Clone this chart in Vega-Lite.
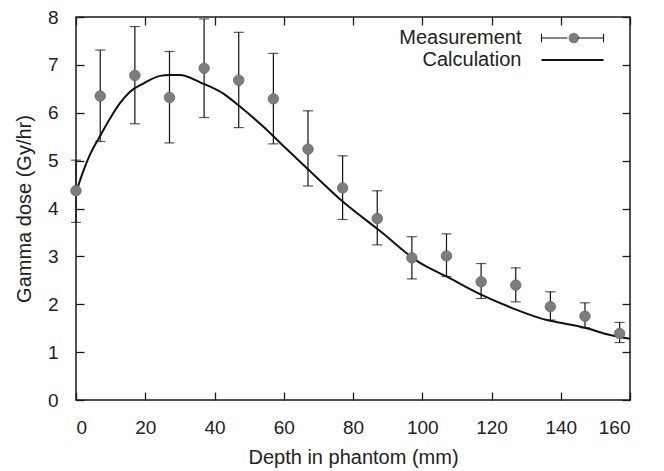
{
  "$schema": "https://vega.github.io/schema/vega-lite/v6.json",
  "width": 554,
  "height": 383,
  "autosize": "none",
  "padding": {"left": 76, "top": 17, "right": 34, "bottom": 71},
  "background": "white",
  "config": {
    "view": {"stroke": "#1a1a1a", "strokeWidth": 1.5},
    "font": "Liberation Sans",
    "axis": {
      "grid": false,
      "domain": false,
      "tickSize": -8,
      "tickColor": "#1a1a1a",
      "tickWidth": 1.3,
      "labelFont": "Liberation Sans",
      "labelFontSize": 19,
      "labelColor": "#222",
      "titleFont": "Liberation Sans",
      "titleFontSize": 20,
      "titleFontWeight": "normal",
      "titleColor": "#222"
    }
  },
  "resolve": {"axis": {"x": "independent", "y": "independent"}},
  "datasets": {
    "meas": [
      {"depth": 0, "dose": 4.37, "lo": 3.71, "hi": 5.01, "series": "Measurement"},
      {"depth": 7, "dose": 6.35, "lo": 5.40, "hi": 7.31, "series": "Measurement"},
      {"depth": 17, "dose": 6.78, "lo": 5.77, "hi": 7.80, "series": "Measurement"},
      {"depth": 27, "dose": 6.32, "lo": 5.37, "hi": 7.28, "series": "Measurement"},
      {"depth": 37, "dose": 6.93, "lo": 5.90, "hi": 7.96, "series": "Measurement"},
      {"depth": 47, "dose": 6.68, "lo": 5.69, "hi": 7.68, "series": "Measurement"},
      {"depth": 57, "dose": 6.29, "lo": 5.35, "hi": 7.24, "series": "Measurement"},
      {"depth": 67, "dose": 5.24, "lo": 4.47, "hi": 6.04, "series": "Measurement"},
      {"depth": 77, "dose": 4.43, "lo": 3.77, "hi": 5.10, "series": "Measurement"},
      {"depth": 87, "dose": 3.79, "lo": 3.24, "hi": 4.37, "series": "Measurement"},
      {"depth": 97, "dose": 2.97, "lo": 2.53, "hi": 3.41, "series": "Measurement"},
      {"depth": 107, "dose": 3.01, "lo": 2.58, "hi": 3.47, "series": "Measurement"},
      {"depth": 117, "dose": 2.47, "lo": 2.12, "hi": 2.85, "series": "Measurement"},
      {"depth": 127, "dose": 2.40, "lo": 2.05, "hi": 2.76, "series": "Measurement"},
      {"depth": 137, "dose": 1.95, "lo": 1.67, "hi": 2.26, "series": "Measurement"},
      {"depth": 147, "dose": 1.75, "lo": 1.51, "hi": 2.03, "series": "Measurement"},
      {"depth": 157, "dose": 1.39, "lo": 1.20, "hi": 1.62, "series": "Measurement"}
    ],
    "calc": [
      {"depth": 0, "dose": 4.33},
      {"depth": 2, "dose": 4.76},
      {"depth": 4, "dose": 5.12},
      {"depth": 7, "dose": 5.52},
      {"depth": 10, "dose": 5.9},
      {"depth": 12.7, "dose": 6.2},
      {"depth": 15.6, "dose": 6.44},
      {"depth": 19.4, "dose": 6.61},
      {"depth": 24.3, "dose": 6.77},
      {"depth": 27, "dose": 6.79},
      {"depth": 30, "dose": 6.79},
      {"depth": 36, "dose": 6.63},
      {"depth": 43, "dose": 6.38},
      {"depth": 47, "dose": 6.15},
      {"depth": 55, "dose": 5.65},
      {"depth": 59, "dose": 5.37},
      {"depth": 67, "dose": 4.82},
      {"depth": 76, "dose": 4.21},
      {"depth": 88, "dose": 3.52},
      {"depth": 99, "dose": 2.88},
      {"depth": 107, "dose": 2.58},
      {"depth": 117, "dose": 2.2},
      {"depth": 126, "dose": 1.92},
      {"depth": 136, "dose": 1.67},
      {"depth": 141, "dose": 1.6},
      {"depth": 147.5, "dose": 1.5},
      {"depth": 153, "dose": 1.38},
      {"depth": 160, "dose": 1.28}
    ]
  },
  "layer": [
    {
      "data": {"name": "calc"},
      "mark": {"type": "line", "color": "#111", "strokeWidth": 2, "interpolate": "monotone"},
      "encoding": {
        "x": {"field": "depth", "type": "quantitative", "scale": {"domain": [0, 160], "nice": false},
              "axis": {"orient": "top", "labels": false, "title": null, "values": [0, 20, 40, 60, 80, 100, 120, 140, 160]}},
        "y": {"field": "dose", "type": "quantitative", "scale": {"domain": [0, 8], "nice": false},
              "axis": {"orient": "right", "labels": false, "title": null, "values": [0, 1, 2, 3, 4, 5, 6, 7, 8]}}
      }
    },
    {
      "data": {"name": "meas"},
      "mark": {"type": "rule", "color": "#111", "strokeWidth": 1.2},
      "encoding": {
        "x": {"field": "depth", "type": "quantitative",
              "axis": {"orient": "bottom", "title": "Depth in phantom (mm)", "values": [0, 20, 40, 60, 80, 100, 120, 140, 160], "labelPadding": 26, "titlePadding": 10}},
        "y": {"field": "lo", "type": "quantitative",
              "axis": {"orient": "left", "title": "Gamma dose (Gy/hr)", "values": [0, 1, 2, 3, 4, 5, 6, 7, 8], "labelPadding": 26, "titlePadding": 13}},
        "y2": {"field": "hi"}
      }
    },
    {
      "data": {"name": "meas"},
      "mark": {"type": "tick", "orient": "horizontal", "color": "#111", "size": 10, "thickness": 1.2},
      "encoding": {
        "x": {"field": "depth", "type": "quantitative", "axis": null},
        "y": {"field": "lo", "type": "quantitative", "axis": null}
      }
    },
    {
      "data": {"name": "meas"},
      "mark": {"type": "tick", "orient": "horizontal", "color": "#111", "size": 10, "thickness": 1.2},
      "encoding": {
        "x": {"field": "depth", "type": "quantitative", "axis": null},
        "y": {"field": "hi", "type": "quantitative", "axis": null}
      }
    },
    {
      "data": {"name": "meas"},
      "mark": {"type": "point", "shape": "circle", "filled": true, "size": 110, "opacity": 1, "stroke": "#666", "strokeWidth": 0.8},
      "encoding": {
        "x": {"field": "depth", "type": "quantitative", "axis": null},
        "y": {"field": "dose", "type": "quantitative", "axis": null},
        "color": {
          "field": "series", "type": "nominal",
          "scale": {"domain": ["Measurement"], "range": ["#7d7d7d"]},
          "legend": {
            "title": null,
            "orient": "none",
            "legendX": 487.8,
            "legendY": 11,
            "clipHeight": 20,
            "symbolType": "circle",
            "symbolSize": 110,
            "symbolStrokeWidth": 0,
            "symbolOpacity": 1,
            "labelExpr": "''",
            "labelFontSize": 20,
            "rowPadding": 2
          }
        }
      }
    },
    {
      "data": {"name": "meas"},
      "mark": {"type": "point", "filled": true, "size": 144, "color": "#111", "strokeWidth": 0, "opacity": 0},
      "encoding": {
        "x": {"field": "depth", "type": "quantitative", "axis": null},
        "y": {"field": "dose", "type": "quantitative", "axis": null},
        "shape": {
          "field": "series", "type": "nominal",
          "scale": {"domain": ["Measurement", "Calculation"],
                    "range": ["M-5.17,-0.09L-0.85,-0.09L-0.85,0.09L-5.17,0.09ZM0.85,-0.09L5.17,-0.09L5.17,0.09L0.85,0.09ZM-5.26,-0.72L-5.08,-0.72L-5.08,0.72L-5.26,0.72ZM5.08,-0.72L5.26,-0.72L5.26,0.72L5.08,0.72Z",
                              "M-5.17,-0.16L5.17,-0.16L5.17,0.16L-5.17,0.16Z"]},
          "legend": {
            "title": null,
            "orient": "none",
            "legendX": 486.5,
            "legendY": 11,
            "symbolSize": 144,
            "symbolOpacity": 1,
            "symbolFillColor": "#111",
            "labelFont": "Liberation Sans",
            "labelFontSize": 20,
            "labelColor": "#222",
            "labelAlign": "right",
            "labelOffset": -61,
            "rowPadding": 2
          }
        }
      }
    }
  ]
}
